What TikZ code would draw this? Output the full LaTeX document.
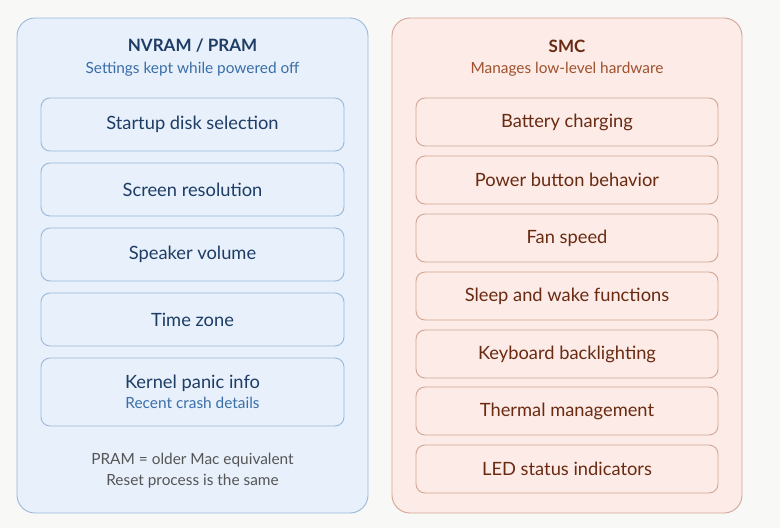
\documentclass[tikz,border=0pt]{standalone}
\usepackage{fontspec}
\setmainfont{Lato}
\definecolor{pagebg}{HTML}{F8F8F7}
\definecolor{nvfill}{HTML}{E7F0FB}
\definecolor{nvline}{HTML}{9BB8DA}
\definecolor{nvtitle}{HTML}{1E3D66}
\definecolor{nvsub}{HTML}{3A6EA8}
\definecolor{smfill}{HTML}{FCEBE6}
\definecolor{smline}{HTML}{D3A593}
\definecolor{smtitle}{HTML}{6A2A12}
\definecolor{smsub}{HTML}{A0512E}
\definecolor{notegray}{HTML}{555555}
\begin{document}
\begin{tikzpicture}[
  x=1pt, y=-1pt,
  panel/.style={draw, line width=0.9pt, rounded corners=18pt},
  nvitem/.style={draw=nvline, fill=nvfill, line width=0.9pt, rounded corners=9pt,
    minimum width=303pt, inner sep=0pt, align=center, text=nvtitle, font=\fontsize{18.3}{21}\selectfont},
  smitem/.style={draw=smline, fill=smfill, line width=0.9pt, rounded corners=9pt,
    minimum width=302pt, minimum height=48pt, inner sep=0pt, text=smtitle, font=\fontsize{18.3}{21}\selectfont},
  heading/.style={font=\fontsize{17}{20}\selectfont\bfseries},
  subheading/.style={font=\fontsize{15.4}{21}\selectfont}
]
  \fill[pagebg] (0,0) rectangle (780,528);
  \useasboundingbox (0,0) rectangle (780,528);
  % NVRAM panel
  \draw[panel, draw=nvline, fill=nvfill] (17,18) rectangle (368,513);
  \node[heading, text=nvtitle] (nvhead) at (192.5,46) {NVRAM / PRAM};
  \node[subheading, text=nvsub] (nvsub) at (192.5,69) {Settings kept while powered off};
  \node[nvitem, minimum height=53pt] (nv1) at (192.5,124.5) {Startup disk selection};
  \node[nvitem, minimum height=53pt] (nv2) at (192.5,189.5) {Screen resolution};
  \node[nvitem, minimum height=53pt] (nv3) at (192.5,254.5) {Speaker volume};
  \node[nvitem, minimum height=53pt] (nv4) at (192.5,319.5) {Time zone};
  \node[nvitem, minimum height=68pt] (nv5) at (192.5,392) {Kernel panic info\\[-1pt]{\fontsize{15.4}{18}\selectfont\color{nvsub}Recent crash details}};
  \node[subheading, text=notegray, align=center] (nvnote) at (192.5,470.5) {PRAM = older Mac equivalent\\Reset process is the same};
  % SMC panel
  \draw[panel, draw=smline, fill=smfill] (392,18) rectangle (742,513);
  \node[heading, text=smtitle] (smhead) at (567,46) {SMC};
  \node[subheading, text=smsub] (smsub) at (567,69) {Manages low-level hardware};
  \node[smitem] (sm1) at (567,122) {Battery charging};
  \node[smitem] (sm2) at (567,180) {Power button behavior};
  \node[smitem] (sm3) at (567,238) {Fan speed};
  \node[smitem] (sm4) at (567,296) {Sleep and wake functions};
  \node[smitem] (sm5) at (567,354) {Keyboard backlighting};
  \node[smitem] (sm6) at (567,411) {Thermal management};
  \node[smitem] (sm7) at (567,469) {LED status indicators};
\end{tikzpicture}
\end{document}
